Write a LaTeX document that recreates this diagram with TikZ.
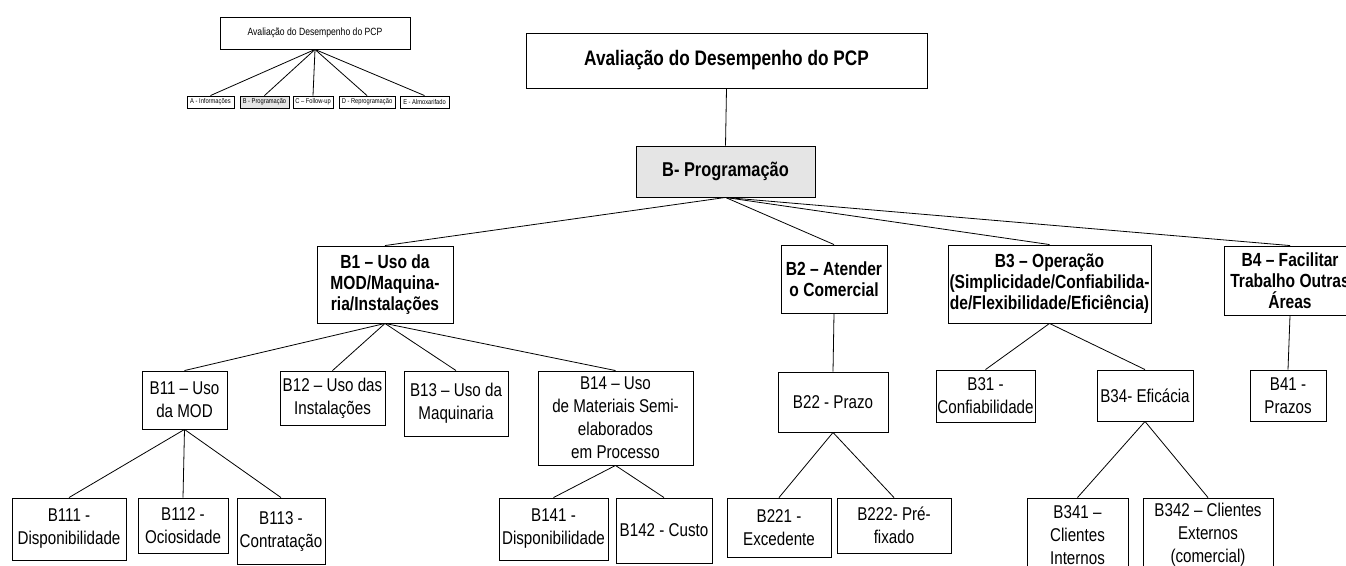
\documentclass[tikz,border=0pt]{standalone}
\usepackage{fontspec}
\setmainfont{Liberation Sans}[FakeStretch=0.82]
\begin{document}
\begin{tikzpicture}[x=1pt,y=-1pt,
  box/.style={draw=black,line width=0.9pt,fill=white,align=center,inner sep=0pt,
    minimum width=#1},
  box/.default=100,
  lvltop/.style={font=\fontsize{21}{25}\selectfont\bfseries},
  lvlbold/.style={font=\fontsize{19}{21}\selectfont\bfseries},
  lvlreg/.style={font=\fontsize{18.5}{23}\selectfont},
  mini/.style={font=\fontsize{7}{8}\selectfont},
  shaded/.style={fill=black!10},
  link/.style={draw=black,line width=0.8pt}]
\useasboundingbox (0,0) rectangle (1346,565);
\fill[white] (0,0) rectangle (1346,565);

% overview tree
\node[box=190,minimum height=32,font=\fontsize{10.5}{12}\selectfont] (s0) at (315,33) {Avaliação do Desempenho do PCP};
\node[box=47,minimum height=12,mini] (sA) at (210.5,102) {A - Informações};
\node[box=49,minimum height=12,mini,shaded] (sB) at (264.5,102) {B - Programação};
\node[box=40,minimum height=12,mini] (sC) at (313,102) {C – Follow-up};
\node[box=56,minimum height=12,mini] (sD) at (367,102) {D - Reprogramação};
\node[box=49,minimum height=12,mini] (sE) at (424.5,102) {E - Almoxarifado};
\foreach \c in {sA,sB,sC,sD,sE} \draw[link] (s0.south) -- (\c.north);

% main tree, top levels
\node[box=401,minimum height=55,lvltop] (root) at (726.5,60.5) {Avaliação do Desempenho do PCP};
\node[box=179,minimum height=51,lvltop,shaded,font=\fontsize{20}{24}\selectfont\bfseries] (bp) at (725.5,171.5) {B- Programação};

\node[box=136,minimum height=77,lvlbold] (b1) at (385,284.5) {B1 – Uso da\\MOD/Maquina-\\ria/Instalações};
\node[box=106,minimum height=68,lvlbold] (b2) at (834,279) {B2 – Atender\\o Comercial};
\node[box=203,minimum height=78,lvlbold] (b3) at (1049.5,284) {B3 – Operação\\(Simplicidade/Confiabilida-\\de/Flexibilidade/Eficiência)};
\node[box=132,minimum height=69,lvlbold] (b4) at (1290,280.5) {B4 – Facilitar\\Trabalho Outras\\Áreas};

% third level
\node[box=85,minimum height=58,lvlreg] (b11) at (184.5,400) {B11 – Uso\\da MOD};
\node[box=105,minimum height=54,lvlreg] (b12) at (332.5,398) {B12 – Uso das\\Instalações};
\node[box=104,minimum height=65,lvlreg] (b13) at (456,403.5) {B13 – Uso da\\Maquinaria};
\node[box=155,minimum height=94,lvlreg] (b14) at (615.5,418) {B14 – Uso\\de Materiais Semi-\\elaborados\\em Processo};
\node[box=110,minimum height=60,lvlreg] (b22) at (833,402) {B22 - Prazo};
\node[box=99,minimum height=52,lvlreg] (b31) at (985.5,396) {B31 -\\Confiabilidade};
\node[box=96,minimum height=51,lvlreg] (b34) at (1145,395.5) {B34- Eficácia};
\node[box=76,minimum height=51,lvlreg] (b41) at (1288,395.5) {B41 -\\Prazos};

% fourth level
\node[box=114,minimum height=62,lvlreg] (b111) at (69,529) {B111 -\\Disponibilidade};
\node[box=90,minimum height=55,lvlreg] (b112) at (183,525.5) {B112 -\\Ociosidade};
\node[box=88,minimum height=66,lvlreg] (b113) at (281,531) {B113 -\\Contratação};
\node[box=109,minimum height=62,lvlreg] (b141) at (553.5,529) {B141 -\\Disponibilidade};
\node[box=96,minimum height=65,lvlreg] (b142) at (664,530.5) {B142 - Custo};
\node[box=104,minimum height=59,lvlreg] (b221) at (779,527.5) {B221 -\\Excedente};
\node[box=114,minimum height=55,lvlreg] (b222) at (894,525.5) {B222- Pré-\\fixado};
\node[box=101,minimum height=74,lvlreg] (b341) at (1077.5,535) {B341 –\\Clientes\\Internos};
\node[box=130,minimum height=74,lvlreg] (b342) at (1208,535) {B342 – Clientes\\Externos\\(comercial)};

% connectors
\draw[link] (root.south) -- (bp.north);
\foreach \c in {b1,b2,b3,b4} \draw[link] (bp.south) -- (\c.north);
\foreach \c in {b11,b12,b13,b14} \draw[link] (b1.south) -- (\c.north);
\foreach \c in {b111,b112,b113} \draw[link] (b11.south) -- (\c.north);
\foreach \c in {b141,b142} \draw[link] (b14.south) -- (\c.north);
\draw[link] (b2.south) -- (b22.north);
\foreach \c in {b221,b222} \draw[link] (b22.south) -- (\c.north);
\foreach \c in {b31,b34} \draw[link] (b3.south) -- (\c.north);
\foreach \c in {b341,b342} \draw[link] (b34.south) -- (\c.north);
\draw[link] (b4.south) -- (b41.north);
\end{tikzpicture}
\end{document}
